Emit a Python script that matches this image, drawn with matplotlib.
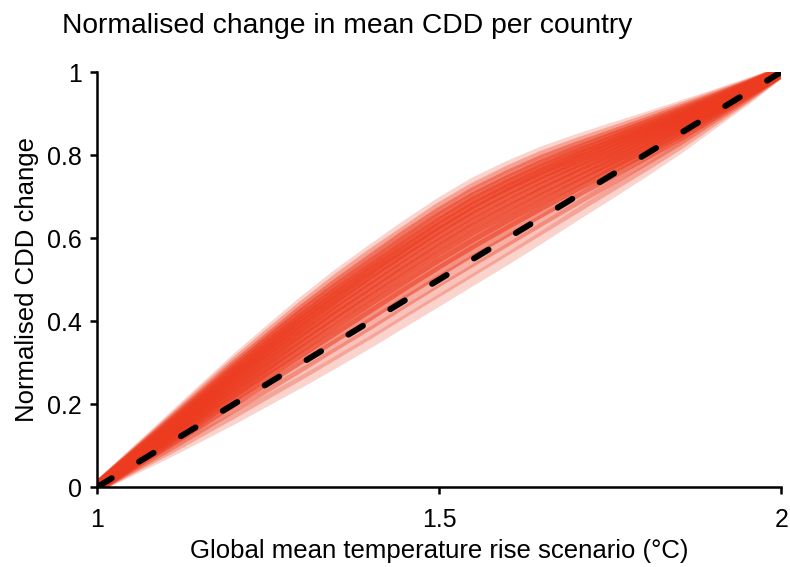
import matplotlib
matplotlib.use("Agg")
import matplotlib.pyplot as plt

# Scenario temperatures (°C)
temps = [1.00, 1.05, 1.10, 1.15, 1.20, 1.25, 1.30, 1.35, 1.40, 1.45, 1.50,
         1.55, 1.60, 1.65, 1.70, 1.75, 1.80, 1.85, 1.90, 1.95, 2.00]

# Normalised CDD change per country
country_curves = [
    [0, .040, .080, .122, .165, .210, .255, .302, .350, .400, .450, .500, .550, .602, .655, .707, .760, .815, .875, .935, 1],
    [0, .044, .087, .133, .179, .227, .274, .323, .372, .423, .473, .523, .573, .623, .673, .723, .773, .825, .882, .939, 1],
    [0, .047, .094, .143, .193, .243, .293, .344, .394, .446, .497, .546, .594, .643, .691, .738, .786, .835, .889, .942, 1],
    [0, .051, .102, .154, .207, .260, .312, .364, .416, .469, .520, .570, .617, .664, .709, .754, .799, .845, .895, .946, 1],
    [0, .054, .107, .162, .218, .273, .327, .381, .434, .487, .539, .588, .635, .680, .724, .766, .809, .853, .901, .949, 1],
    [0, .056, .112, .170, .228, .285, .340, .396, .450, .503, .555, .604, .650, .694, .736, .777, .818, .860, .906, .951, 1],
    [0, .059, .117, .177, .237, .295, .354, .411, .464, .519, .571, .621, .665, .709, .749, .788, .827, .868, .910, .954, 1],
    [0, .061, .122, .183, .246, .306, .365, .422, .478, .532, .585, .634, .679, .721, .760, .797, .835, .874, .914, .956, 1],
    [0, .063, .126, .190, .254, .316, .377, .435, .491, .546, .599, .649, .692, .733, .771, .807, .843, .880, .919, .958, 1],
    [0, .065, .130, .196, .262, .325, .388, .448, .504, .560, .613, .662, .706, .746, .782, .816, .850, .886, .923, .960, 1],
    [0, .067, .134, .202, .269, .334, .398, .458, .516, .571, .625, .674, .717, .756, .791, .824, .857, .891, .926, .962, 1],
    [0, .069, .138, .207, .276, .342, .407, .468, .526, .582, .636, .686, .728, .766, .800, .832, .863, .896, .929, .964, 1],
    [0, .071, .141, .212, .283, .351, .417, .479, .537, .594, .649, .697, .738, .776, .809, .840, .870, .901, .933, .966, 1],
    [0, .072, .145, .217, .290, .358, .426, .489, .548, .606, .660, .709, .750, .787, .818, .847, .876, .906, .936, .967, 1],
    [0, .074, .148, .223, .297, .367, .435, .500, .560, .616, .672, .720, .761, .797, .827, .855, .883, .911, .940, .969, 1],
    [0, .076, .152, .228, .304, .375, .445, .510, .570, .628, .683, .732, .772, .807, .836, .863, .889, .916, .943, .971, 1],
]
# Opacity per curve (style)
curve_alpha = [0.22, 0.3, 0.4, 0.55, 0.6, 0.6, 0.6, 0.6, 0.6, 0.6, 0.6, 0.6, 0.55, 0.45, 0.32, 0.22]

# Linear reference
reference_x = [1.0, 2.0]
reference_y = [0.0, 1.0]

xticks = [1, 1.5, 2]
xtick_labels = ["1", "1.5", "2"]
yticks = [0, 0.2, 0.4, 0.6, 0.8, 1]
ytick_labels = ["0", "0.2", "0.4", "0.6", "0.8", "1"]

plt.rcParams['font.family'] = ['Liberation Sans', 'DejaVu Sans']

fig = plt.figure(figsize=(7.9, 5.67), dpi=100)
ax = fig.add_axes([0.123, 0.141, 0.866, 0.732])

for curve, a in zip(country_curves, curve_alpha):
    ax.plot(temps, curve, color='#EC3B1F', alpha=a, lw=8,
            solid_capstyle='butt', solid_joinstyle='round')

ax.plot(reference_x, reference_y, color='black', lw=4.3,
        dashes=(2.85, 5.35), dash_capstyle='round')

ax.set_xlim(1, 2)
ax.set_ylim(0, 1)
ax.set_xticks(xticks)
ax.set_xticklabels(xtick_labels)
ax.set_yticks(yticks)
ax.set_yticklabels(ytick_labels)

for s in ['top', 'right']:
    ax.spines[s].set_visible(False)
for s in ['left', 'bottom']:
    ax.spines[s].set_linewidth(1.8)
    ax.spines[s].set_color('black')
ax.tick_params(axis='y', direction='out', length=5, width=1.8, labelsize=18,
               colors='black', pad=6)
ax.tick_params(axis='x', direction='out', length=5, width=1.8, labelsize=18,
               colors='black', pad=10)

ax.set_xlabel("Global mean temperature rise scenario (°C)", fontsize=18.5, labelpad=5)
ax.set_ylabel("Normalised CDD change", fontsize=18.5, labelpad=6)
fig.text(0.078, 0.955, "Normalised change in mean CDD per country",
         fontsize=20.3, va='center', ha='left')

fig.savefig("out.png", dpi=100)
